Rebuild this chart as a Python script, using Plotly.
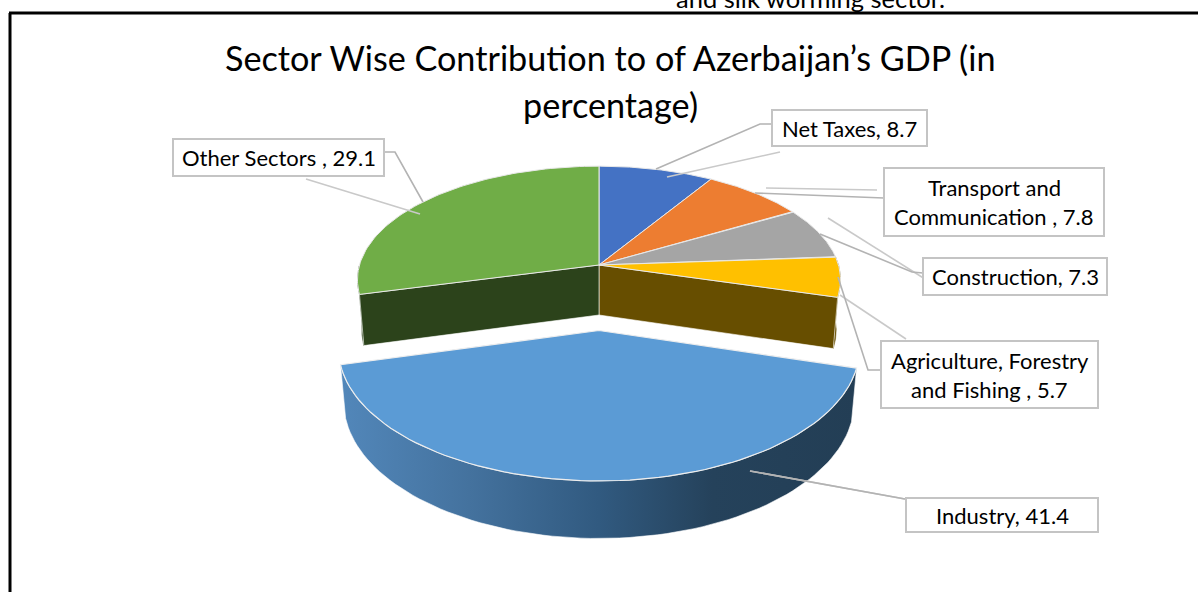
import numpy as np
import plotly.graph_objects as go

# Sector shares of GDP, clockwise from twelve o'clock
SECTOR_LINES = [
    ["Net Taxes,"],
    ["Transport and", "Communication ,"],
    ["Construction,"],
    ["Agriculture, Forestry", "and Fishing ,"],
    ["Industry,"],
    ["Other Sectors ,"],
]
VALUES = [8.7, 7.8, 7.3, 5.7, 41.4, 29.1]
TOP_COLORS = ["#4472C4", "#ED7D31", "#A5A5A5", "#FFC000", "#5B9BD5", "#70AD47"]
SIDE_COLORS = ["#29426F", "#8A4A1C", "#606060", "#674E00", "#2A4D6E", "#2C431B"]
EXPLODE = [0, 0, 0, 0, 0.545, 0]
TITLE_LINES = ["Sector Wise Contribution to of Azerbaijan’s GDP (in", "percentage)"]
CLIPPED_TEXT = "and silk worming sector."

# Label boxes: x0, y0, x1, y1 in page pixels
BOXES = [
    (772, 110, 927, 146),
    (884, 168, 1104, 236),
    (923, 258, 1107, 295),
    (881, 341, 1098, 408),
    (906, 498, 1098, 532),
    (173, 139, 384, 176),
]
# Leader lines: dark polyline and its paler companion for each label
LEADERS = [
    ([(656, 169), (760, 124), (772, 124)], [(667, 177), (780, 152)]),
    ([(755, 193), (860, 197), (884, 198)], [(766, 188), (877, 190)]),
    ([(820, 234), (912, 272), (923, 273)], [(828, 218), (925, 279)]),
    ([(838, 277), (868, 370), (881, 370)], [(840, 295), (906, 339)]),
    ([(750, 471), (905, 499)], [(750, 471), (905, 499)]),
    ([(423, 202), (395, 152), (385, 152)], [(306, 179), (420, 214)]),
]

# Perspective model of the disc
CX, CY = 599.0, 265.0
RX, RY = 239.5, 111.7
DEPTH = 50.9
K_NEAR, K_DOWN = 0.13, 0.018


def project(u, v, z=0.0):
    w = 1 - K_NEAR * v + K_DOWN * z
    return CX + RX * u / w, CY + (RY * v + DEPTH * z) / w


def rim(a0, a1, offset, z=0.0, n=80):
    a = np.linspace(a0, a1, n)
    return project(np.sin(a), -np.cos(a) + offset, z)


def poly(x, y, color, line="#FFFFFF", width=1.0, **kw):
    return go.Scatter(
        x=list(x) + [x[0]], y=list(y) + [y[0]], mode="lines", fill="toself",
        fillcolor=color, line=dict(color=line, width=width),
        hoverinfo="skip", showlegend=False, **kw,
    )


edges = np.cumsum([0] + VALUES) / sum(VALUES) * 2 * np.pi
fig = go.Figure()
IND = 4
AGR = 3
OTH = 5


def cut_face(angle, offset, color):
    xt, yt = project(np.sin(angle), -np.cos(angle) + offset)
    xb, yb = project(np.sin(angle), -np.cos(angle) + offset, 1)
    xc, yc = project(0.0, offset)
    xd, yd = project(0.0, offset, 1)
    return poly([xc, xt, xb, xd], [yc, yt, yb, yd], color, width=0.6)


def rim_wall(a0, a1, offset, color):
    xt, yt = rim(a0, a1, offset)
    xb, yb = rim(a0, a1, offset, 1)
    return poly(np.r_[xt, xb[::-1]], np.r_[yt, yb[::-1]], color, line=color, width=0.5)


# Rear block: outer rim and the faces exposed by the pulled-out slice
fig.add_trace(rim_wall(edges[AGR], edges[AGR + 1], 0, SIDE_COLORS[AGR]))
fig.add_trace(rim_wall(edges[OTH], edges[OTH] + 0.25, 0, SIDE_COLORS[OTH]))
fig.add_trace(cut_face(edges[AGR + 1], 0, SIDE_COLORS[AGR]))
fig.add_trace(cut_face(edges[OTH], 0, SIDE_COLORS[OTH]))

# Upper faces of the rear slices
for i in [0, 1, 2, 3, 5]:
    xa, ya = rim(edges[i], edges[i + 1], EXPLODE[i])
    xc, yc = project(0.0, EXPLODE[i])
    fig.add_trace(poly(np.r_[xc, xa], np.r_[yc, ya], TOP_COLORS[i], line="#E8E8E8", width=1.0))

# Pulled-out slice: shaded wall first, then its upper face
xt, yt = rim(edges[IND], edges[IND + 1], EXPLODE[IND])
xb, yb = rim(edges[IND], edges[IND + 1], EXPLODE[IND], 1)
wall = poly(np.r_[xt, xb[::-1]], np.r_[yt, yb[::-1]], "#2A4D6E", width=0.6)
wall.update(fillgradient=dict(
    type="horizontal",
    colorscale=[[0, "#5287BA"], [0.25, "#44729E"], [0.5, "#315A80"],
                [0.72, "#25425B"], [1, "#233E55"]],
))
fig.add_trace(wall)
xc, yc = project(0.0, EXPLODE[IND])
fig.add_trace(poly(np.r_[xc, xt], np.r_[yc, yt], TOP_COLORS[IND], line="#EDEDED", width=1.2))

# Leader lines
for dark, pale in LEADERS:
    for pts, color in ((pale, "#C9C9C9"), (dark, "#B3B3B3")):
        fig.add_trace(go.Scatter(
            x=[p[0] for p in pts], y=[p[1] for p in pts], mode="lines",
            line=dict(color=color, width=1.6), hoverinfo="skip", showlegend=False,
        ))

LABEL_FONT = dict(family="Lato, sans-serif", size=22, color="#000000")
LINE_STEP = 29
annotations = []
shapes = []
for lines, value, box in zip(SECTOR_LINES, VALUES, BOXES):
    shapes.append(dict(type="rect", x0=box[0], y0=box[1], x1=box[2], y1=box[3],
                       xref="x", yref="y", line=dict(color="#C4C4C4", width=2),
                       fillcolor="#FFFFFF", layer="above"))
    texts = list(lines)
    texts[-1] = f"{texts[-1]} {value}"
    mid = (box[1] + box[3]) / 2
    first = mid - LINE_STEP * (len(texts) - 1) / 2
    for j, text in enumerate(texts):
        annotations.append(dict(
            x=(box[0] + box[2]) / 2, y=first + j * LINE_STEP, text=text, xref="x", yref="y",
            showarrow=False, xanchor="center", yanchor="middle", font=LABEL_FONT,
        ))

for text, y in zip(TITLE_LINES, [57, 104]):
    annotations.append(dict(
        x=610, y=y, text=text, xref="x", yref="y", showarrow=False,
        xanchor="center", yanchor="middle",
        font=dict(family="Lato, sans-serif", size=34.2, color="#000000"),
    ))

# Tail of the running text above the frame, cut by the page edge
annotations.append(dict(
    x=810 / 1198, y=1 + 2 / 592, text=CLIPPED_TEXT, xref="paper", yref="paper", showarrow=False,
    xanchor="center", yanchor="middle",
    font=dict(family="Lato, sans-serif", size=25.5, color="#000000"),
))

# Page frame
frame = dict(color="#000000", width=3)
shapes.append(dict(type="line", x0=9, y0=13, x1=1198, y1=13, xref="x", yref="y", line=frame, layer="above"))
shapes.append(dict(type="line", x0=10, y0=13, x1=10, y1=592, xref="x", yref="y", line=frame, layer="above"))

fig.update_layout(
    width=1198, height=592, margin=dict(l=0, r=0, t=0, b=0),
    paper_bgcolor="#FFFFFF", plot_bgcolor="#FFFFFF", showlegend=False,
    xaxis=dict(range=[0, 1198], visible=False, fixedrange=True),
    yaxis=dict(range=[592, 0], visible=False, fixedrange=True),
    annotations=annotations, shapes=shapes,
)
fig.write_html("out.html", config=dict(displayModeBar=False))
